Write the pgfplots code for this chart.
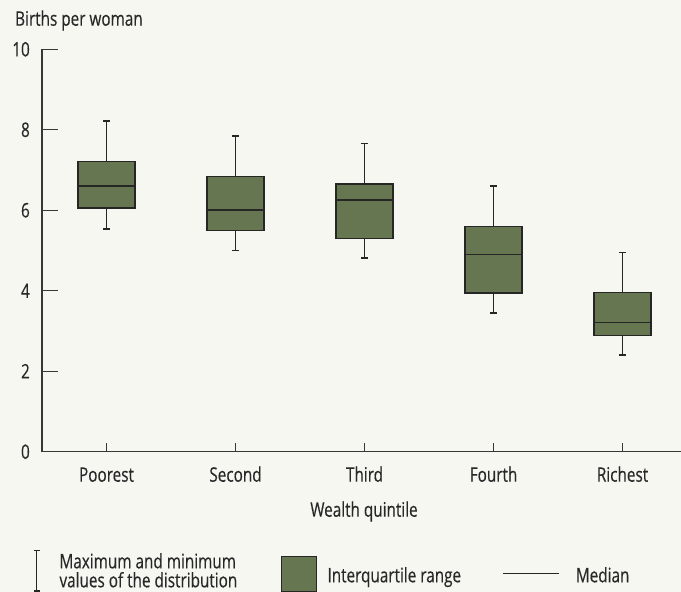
\documentclass[border=0pt]{standalone}
\usepackage{fontspec}
\setmainfont[FakeStretch=0.765, FakeBold=0.35]{Open Sans}
\usepackage{pgfplots}
\pgfplotsset{compat=1.18}
\usepgfplotslibrary{statistics}
\definecolor{bgcol}{RGB}{247,247,242}
\definecolor{boxgreen}{RGB}{102,118,80}
\definecolor{edge}{RGB}{38,38,38}
\definecolor{axcol}{RGB}{55,55,55}
\definecolor{txt}{RGB}{40,40,40}
\pgfplotsset{bx/.style={fill=boxgreen, draw=edge, line width=1.5bp}}
\begin{document}
\fontsize{20bp}{23bp}\selectfont
\begin{tikzpicture}
\fill[bgcol] (-42bp,-140.3bp) rectangle (639bp,451.7bp);
\path[use as bounding box] (-42bp,-140.3bp) rectangle (639bp,451.7bp);
\begin{axis}[
  at={(0,0)}, anchor=south west,
  scale only axis, width=639bp, height=402.4bp,
  xmin=-0.5, xmax=4.453, ymin=0, ymax=10,
  axis x line*=bottom, axis y line*=left,
  axis line style={-, draw=axcol, line width=1.3bp},
  xtick={0,1,2,3,4},
  xticklabels={Poorest,Second,Third,Fourth,Richest},
  ytick={0,2,4,6,8,10},
  tick align=inside,
  major tick length=16bp,
  xtick style={draw=axcol, line width=1.1bp, /pgfplots/major tick length=9bp},
  ytick style={draw=axcol, line width=1.1bp},
  /pgf/number format/assume math mode=true,
  yticklabel style={anchor=east, inner sep=0pt, xshift=-12bp, text=txt},
  xticklabel style={anchor=base, inner sep=0pt, yshift=-30bp, text=txt},
  clip=false,
]
\addplot[bx, boxplot prepared={lower whisker=5.54, lower quartile=6.05, median=6.60, upper quartile=7.21, upper whisker=8.22, draw position=0, draw direction=y, box extend=0.44, whisker extend=0.05}] coordinates {};
\addplot[bx, boxplot prepared={lower whisker=5.00, lower quartile=5.50, median=6.01, upper quartile=6.84, upper whisker=7.85, draw position=1, draw direction=y, box extend=0.44, whisker extend=0.05}] coordinates {};
\addplot[bx, boxplot prepared={lower whisker=4.81, lower quartile=5.30, median=6.25, upper quartile=6.65, upper whisker=7.66, draw position=2, draw direction=y, box extend=0.44, whisker extend=0.05}] coordinates {};
\addplot[bx, boxplot prepared={lower whisker=3.45, lower quartile=3.95, median=4.90, upper quartile=5.60, upper whisker=6.60, draw position=3, draw direction=y, box extend=0.44, whisker extend=0.05}] coordinates {};
\addplot[bx, boxplot prepared={lower whisker=2.40, lower quartile=2.89, median=3.21, upper quartile=3.96, upper whisker=4.95, draw position=4, draw direction=y, box extend=0.44, whisker extend=0.05}] coordinates {};
\end{axis}
% titles
\node[anchor=base west, inner sep=0pt, text=txt] at (-27bp,426bp) {Births per woman};
\node[anchor=base, inner sep=0pt, text=txt] at (322bp,-65bp) {Wealth quintile};
% legend
\draw[edge, line width=1.2bp] (-5.3bp,-99bp) -- (-5.3bp,-139.3bp);
\draw[edge, line width=1.2bp] (-8.3bp,-99bp) -- (-2.3bp,-99bp);
\draw[edge, line width=1.2bp] (-8.3bp,-139.3bp) -- (-2.3bp,-139.3bp);
\node[anchor=base west, inner sep=0pt, text=txt] at (17.3bp,-116.6bp) {Maximum and minimum};
\node[anchor=base west, inner sep=0pt, text=txt] at (17.3bp,-135.6bp) {values of the distribution};
\draw[fill=boxgreen, draw=edge, line width=1.5bp] (239.7bp,-105bp) rectangle (274.7bp,-140bp);
\node[anchor=base west, inner sep=0pt, text=txt] at (285.3bp,-130.6bp) {Interquartile range};
\draw[edge, line width=1.1bp] (461bp,-121.6bp) -- (517bp,-121.6bp);
\node[anchor=base west, inner sep=0pt, text=txt] at (533.7bp,-130.6bp) {Median};
\end{tikzpicture}
\end{document}
